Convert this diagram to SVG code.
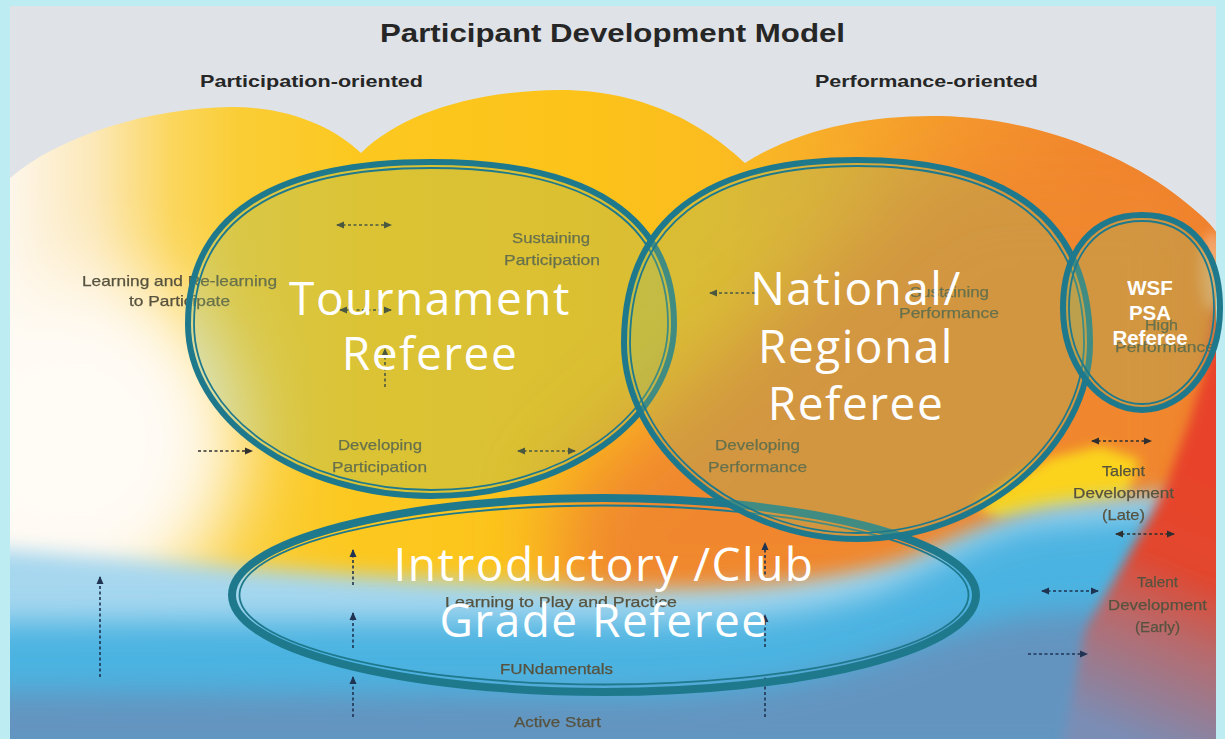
<svg xmlns="http://www.w3.org/2000/svg" width="1225" height="739" viewBox="0 0 1225 739">
<defs>
<style>
.bgtxt{font-family:"Liberation Sans",Arial,sans-serif;font-size:15px;fill:#57523f;stroke:#57523f;stroke-width:0.25;filter:url(#soft)}
.hdr{font-family:"Liberation Sans",Arial,sans-serif;font-weight:bold;fill:#262626}
.big{font-family:"Open Sans","Noto Sans",sans-serif;font-size:46px;fill:#ffffff;letter-spacing:1.5px;text-anchor:middle}
.wsf{font-family:"Liberation Sans",Arial,sans-serif;font-weight:bold;font-size:20.5px;fill:#ffffff;text-anchor:middle}
.ro{fill:none;stroke:#1f798d;stroke-width:6}
.ri{fill:none;stroke:#1f798d;stroke-width:1.8}
.fill{fill:#8fb86a;fill-opacity:0.3}
.dash{fill:none;stroke:#2f2f2f;stroke-width:1.6;stroke-dasharray:3 2.5}
.dashb{fill:none;stroke:#1f3352;stroke-width:1.6;stroke-dasharray:3 2.5}
</style>
<marker id="ah" viewBox="0 0 8 8" refX="7" refY="4" markerWidth="8" markerHeight="8" markerUnits="userSpaceOnUse" orient="auto-start-reverse"><path d="M0,0.5 L8,4 L0,7.5 z" fill="#2f2f2f"/></marker>
<marker id="ahb" viewBox="0 0 8 8" refX="7" refY="4" markerWidth="8" markerHeight="8" markerUnits="userSpaceOnUse" orient="auto-start-reverse"><path d="M0,0.5 L8,4 L0,7.5 z" fill="#1f3352"/></marker>
<clipPath id="inner"><rect x="10" y="6" width="1206" height="733"/></clipPath>
<clipPath id="humpclip"><path d="M10,178 C60,135 150,108 232,107 C290,107 335,128 361,153 C400,115 470,91 560,90 C650,90 710,130 745,163 C800,128 870,115 940,116 C1040,118 1130,158 1180,198 C1195,210 1210,222 1216,232 L1216,739 L10,739 Z"/></clipPath>
<filter id="soft" x="-5%" y="-20%" width="110%" height="140%"><feGaussianBlur stdDeviation="0.6"/></filter>
<filter id="b40" x="-50%" y="-50%" width="200%" height="200%"><feGaussianBlur stdDeviation="40"/></filter>
<filter id="b15" x="-30%" y="-30%" width="160%" height="160%"><feGaussianBlur stdDeviation="15"/></filter>
<filter id="b10" x="-30%" y="-30%" width="160%" height="160%"><feGaussianBlur stdDeviation="10"/></filter>
<filter id="b6" x="-30%" y="-30%" width="160%" height="160%"><feGaussianBlur stdDeviation="6"/></filter>
<linearGradient id="hump" gradientUnits="userSpaceOnUse" x1="10" y1="0" x2="1215" y2="0">
<stop offset="0" stop-color="#fdf6ea"/>
<stop offset="0.07" stop-color="#fce8b8"/>
<stop offset="0.135" stop-color="#fbd65c"/>
<stop offset="0.19" stop-color="#facd36"/>
<stop offset="0.29" stop-color="#fcc81f"/>
<stop offset="0.49" stop-color="#fcc21a"/>
<stop offset="0.59" stop-color="#fbbc20"/>
<stop offset="0.66" stop-color="#f8b028"/>
<stop offset="0.74" stop-color="#f5a02c"/>
<stop offset="0.87" stop-color="#f28a2c"/>
<stop offset="1" stop-color="#ee782a"/>
</linearGradient>
<linearGradient id="red" gradientUnits="userSpaceOnUse" x1="1200" y1="470" x2="1095" y2="725">
<stop offset="0" stop-color="#e8432a"/>
<stop offset="0.35" stop-color="#e2472e"/>
<stop offset="0.6" stop-color="#b86a6c"/>
<stop offset="1" stop-color="#7a8db5"/>
</linearGradient>
</defs>

<rect x="0" y="0" width="1225" height="739" fill="#bdedf2"/>

<g id="background" clip-path="url(#inner)">
<rect x="10" y="6" width="1206" height="733" fill="#dfe2e6"/>
<g clip-path="url(#humpclip)">
<rect x="10" y="80" width="1206" height="659" fill="url(#hump)"/>
<ellipse cx="1212" cy="272" rx="14" ry="40" fill="#f6cbb0" filter="url(#b6)"/>
<polygon points="950,170 1215,170 1215,640 560,640 560,490" fill="#f0872e" filter="url(#b40)"/>
<ellipse cx="80" cy="440" rx="160" ry="165" fill="#fffbf5" filter="url(#b40)"/>
<polygon points="975,506 1010,482 1050,458 1100,446 1140,460 1125,500 1060,512 1000,520" fill="#fbd31e" filter="url(#b6)"/>
</g>
<path d="M-20,548 C150,562 400,580 600,588 C750,592 830,580 900,562 C960,540 1000,515 1060,505 C1120,497 1180,492 1240,487 L1240,760 L-20,760 Z" fill="#a6d7ef" filter="url(#b10)"/>
<path d="M-20,622 C200,622 450,620 620,622 C750,622 820,610 880,590 C940,565 980,532 1040,524 C1120,517 1180,512 1240,507 L1240,760 L-20,760 Z" fill="#4bb3e1" filter="url(#b15)"/>
<path d="M-20,692 C200,692 450,695 640,695 C760,692 830,675 900,650 C960,628 1010,615 1060,612 C1140,610 1200,610 1240,610 L1240,760 L-20,760 Z" fill="#6394c0" filter="url(#b15)"/>
<polygon points="1216,305 1230,305 1230,760 1060,760 1085,630 1120,570 1150,517 1167,483 1190,420 1205,370" fill="url(#red)" filter="url(#b6)"/>
</g>

<g id="labels">
<text class="hdr" x="380" y="42" font-size="25" textLength="465" lengthAdjust="spacingAndGlyphs">Participant Development Model</text>
<text class="hdr" x="200" y="87" font-size="17" textLength="223" lengthAdjust="spacingAndGlyphs">Participation-oriented</text>
<text class="hdr" x="815" y="87" font-size="17" textLength="223" lengthAdjust="spacingAndGlyphs">Performance-oriented</text>
<text class="bgtxt" x="82" y="286" textLength="195" lengthAdjust="spacingAndGlyphs">Learning and Re-learning</text>
<text class="bgtxt" x="129" y="306" textLength="101" lengthAdjust="spacingAndGlyphs">to Participate</text>
<text class="bgtxt" x="512" y="243" textLength="78" lengthAdjust="spacingAndGlyphs">Sustaining</text>
<text class="bgtxt" x="504" y="265" textLength="96" lengthAdjust="spacingAndGlyphs">Participation</text>
<text class="bgtxt" x="910" y="297" textLength="79" lengthAdjust="spacingAndGlyphs">Sustaining</text>
<text class="bgtxt" x="899" y="318" textLength="100" lengthAdjust="spacingAndGlyphs">Performance</text>
<text class="bgtxt" x="1145" y="330" textLength="33" lengthAdjust="spacingAndGlyphs">High</text>
<text class="bgtxt" x="1115" y="352" textLength="100" lengthAdjust="spacingAndGlyphs">Performance</text>
<text class="bgtxt" x="338" y="450" textLength="84" lengthAdjust="spacingAndGlyphs">Developing</text>
<text class="bgtxt" x="332" y="472" textLength="95" lengthAdjust="spacingAndGlyphs">Participation</text>
<text class="bgtxt" x="715" y="450" textLength="85" lengthAdjust="spacingAndGlyphs">Developing</text>
<text class="bgtxt" x="708" y="472" textLength="99" lengthAdjust="spacingAndGlyphs">Performance</text>
<text class="bgtxt" x="1102" y="476" textLength="43" lengthAdjust="spacingAndGlyphs">Talent</text>
<text class="bgtxt" x="1073" y="498" textLength="101" lengthAdjust="spacingAndGlyphs">Development</text>
<text class="bgtxt" x="1102" y="520" textLength="43" lengthAdjust="spacingAndGlyphs">(Late)</text>
<text class="bgtxt" x="1137" y="587" textLength="41" lengthAdjust="spacingAndGlyphs">Talent</text>
<text class="bgtxt" x="1108" y="610" textLength="99" lengthAdjust="spacingAndGlyphs">Development</text>
<text class="bgtxt" x="1135" y="632" textLength="45" lengthAdjust="spacingAndGlyphs">(Early)</text>
<text class="bgtxt" x="445" y="607" textLength="232" lengthAdjust="spacingAndGlyphs">Learning to Play and Practice</text>
<text class="bgtxt" x="500" y="674" textLength="113" lengthAdjust="spacingAndGlyphs">FUNdamentals</text>
<text class="bgtxt" x="514" y="727" textLength="87" lengthAdjust="spacingAndGlyphs">Active Start</text>
</g>

<g id="connectors">
<line class="dash" x1="337" y1="225" x2="391" y2="225" marker-start="url(#ah)" marker-end="url(#ah)"/>
<line class="dash" x1="340" y1="310" x2="391" y2="310" marker-start="url(#ah)" marker-end="url(#ah)"/>
<line class="dash" x1="385" y1="387" x2="385" y2="349" marker-end="url(#ah)"/>
<line class="dash" x1="198" y1="451" x2="252" y2="451" marker-end="url(#ah)"/>
<line class="dash" x1="518" y1="451" x2="575" y2="451" marker-start="url(#ah)" marker-end="url(#ah)"/>
<line class="dash" x1="755" y1="293" x2="710" y2="293" marker-end="url(#ah)"/>
<line class="dash" x1="1092" y1="441" x2="1151" y2="441" marker-start="url(#ah)" marker-end="url(#ah)"/>
<line class="dash" x1="1116" y1="534" x2="1174" y2="534" marker-start="url(#ah)" marker-end="url(#ah)"/>
<line class="dashb" x1="1042" y1="591" x2="1098" y2="591" marker-start="url(#ahb)" marker-end="url(#ahb)"/>
<line class="dashb" x1="1028" y1="654" x2="1087" y2="654" marker-end="url(#ahb)"/>
<line class="dashb" x1="100" y1="677" x2="100" y2="577" marker-end="url(#ahb)"/>
<line class="dashb" x1="353" y1="585" x2="353" y2="550" marker-end="url(#ahb)"/>
<line class="dashb" x1="353" y1="648" x2="353" y2="613" marker-end="url(#ahb)"/>
<line class="dashb" x1="353" y1="717" x2="353" y2="677" marker-end="url(#ahb)"/>
<line class="dashb" x1="765" y1="580" x2="765" y2="543" marker-end="url(#ahb)"/>
<line class="dashb" x1="765" y1="647" x2="765" y2="615" marker-end="url(#ahb)"/>
<line class="dashb" x1="765" y1="717" x2="765" y2="678" marker-end="url(#ahb)"/>
</g>

<g id="intro-club">
<ellipse class="ro" cx="604" cy="595" rx="372" ry="97" style="stroke-width:8"/>
<ellipse class="ri" cx="604" cy="595" rx="364.5" ry="89.5"/>
<text class="big" x="604" y="581" letter-spacing="2">Introductory /Club</text>
<text class="big" x="604" y="637">Grade Referee</text>
</g>

<g id="tournament">
<path class="fill" d="M431,162 C591.4,162 674,217.1 674,324 C674,419 565.2,496 431,496 C296.8,496 188,419 188,324 C188,217.1 270.6,162 431,162 Z"/>
<path class="ro" d="M431,162 C591.4,162 674,217.1 674,324 C674,419 565.2,496 431,496 C296.8,496 188,419 188,324 C188,217.1 270.6,162 431,162 Z"/>
<path class="ri" d="M431,168 C587.4,168 668,221 668,324 C668,415.7 561.9,490 431,490 C300.1,490 194,415.7 194,324 C194,221 274.6,168 431,168 Z"/>
<text class="big" x="430" y="315">Tournament</text>
<text class="big" x="430" y="370">Referee</text>
</g>

<g id="national-regional">
<path class="fill" d="M857,160 C1010.8,160 1090,222.2 1090,343 C1090,446.9 980.5,539 857,539 C733.5,539 624,446.9 624,343 C624,222.2 703.2,160 857,160 Z"/>
<path class="ro" d="M857,160 C1010.8,160 1090,222.2 1090,343 C1090,446.9 980.5,539 857,539 C733.5,539 624,446.9 624,343 C624,222.2 703.2,160 857,160 Z"/>
<path class="ri" d="M857,166 C1006.8,166 1084,226.2 1084,343 C1084,443.7 977.3,533 857,533 C736.7,533 630,443.7 630,343 C630,226.2 707.2,166 857,166 Z"/>
<text class="big" x="856" y="305">National/</text>
<text class="big" x="856" y="363">Regional</text>
<text class="big" x="856" y="420">Referee</text>
</g>

<g id="wsf-psa">
<path class="fill" d="M1142,215 C1190.7,215 1220,250 1220,308 C1220,364.3 1185.4,410 1142,410 C1098.6,410 1063,364.3 1063,308 C1063,250 1093.3,215 1142,215 Z"/>
<path class="ro" d="M1142,215 C1190.7,215 1220,250 1220,308 C1220,364.3 1185.4,410 1142,410 C1098.6,410 1063,364.3 1063,308 C1063,250 1093.3,215 1142,215 Z"/>
<path class="ri" d="M1142,221 C1187,221 1214,253.6 1214,308 C1214,361 1182,404 1142,404 C1102,404 1069,361 1069,308 C1069,253.6 1097,221 1142,221 Z"/>
<text class="wsf" x="1150" y="295">WSF</text>
<text class="wsf" x="1150" y="320">PSA</text>
<text class="wsf" x="1150" y="345">Referee</text>
</g>
</svg>
